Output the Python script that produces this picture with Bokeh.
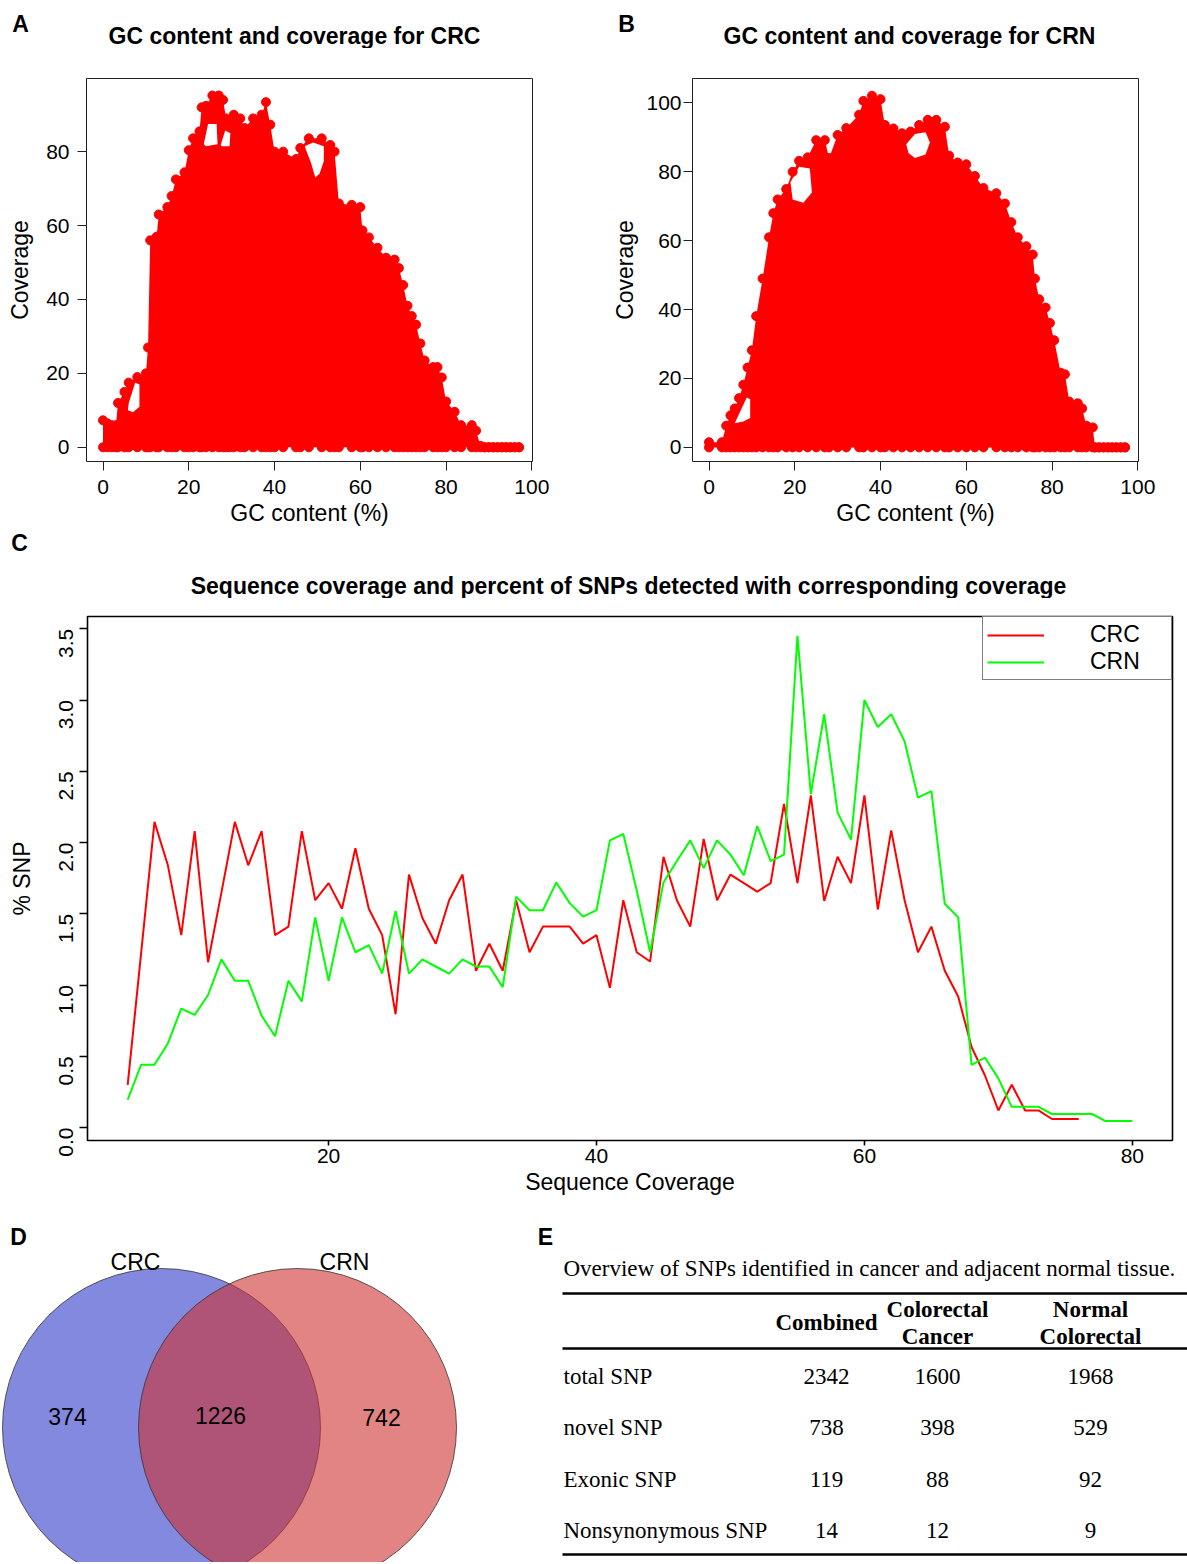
import math
from bokeh.plotting import figure
from bokeh.layouts import column, row
from bokeh.models import FixedTicker, Range1d, NumeralTickFormatter
from bokeh.embed import file_html
from bokeh.resources import INLINE
from bokeh.core.properties import value

SANS = "Liberation Sans"
SERIF = "Liberation Serif"
W = 1187

# ---------------- Panel A / B: upper envelope of GC content vs coverage scatter ----------------
gc_crc = [0, 1, 2, 3, 3.5, 5, 6, 8, 10, 10.5, 11, 12.5, 13, 15, 16, 17, 19, 20, 21, 22.5, 23, 24,
          25.5, 27, 28, 28.7, 29.5, 30.5, 32, 33, 35, 37, 38, 39, 40, 42, 45, 46, 48, 51, 53, 54,
          55, 58, 60, 60.5, 62, 64, 66, 68, 69, 70, 71, 72, 73, 74, 75, 77, 78, 79, 80, 82, 83.5,
          86, 87, 88, 89, 90, 91, 92, 93, 94, 95, 96, 97]
cov_crc = [7.3, 6.5, 6, 6, 12, 15, 17.5, 19, 20, 27, 56, 57, 63, 65, 68, 72.5, 74.4, 80.4, 83.6,
           85.5, 92, 92.4, 95.2, 95.2, 94, 89, 88, 90, 89, 86.4, 89, 90, 93.4, 87.3, 80, 80, 78,
           81, 83.6, 83.6, 81.8, 80, 66, 65.6, 65, 58.7, 56.8, 54, 51.3, 50.8, 48.5, 43.9, 38.3,
           35.5, 33.2, 28.1, 23.5, 21.7, 21.7, 18.9, 12.4, 9.6, 6, 6, 4.5, 0.4, 0, 0, 0, 0, 0, 0,
           0, 0, 0]
holes_crc = [
    ([47, 49, 51.5, 51.5, 50.5, 49.5, 48.5], [81.5, 82.5, 81.5, 77.5, 74, 73, 77]),
    ([6, 7.5, 8.5, 8.5, 7, 5.8], [12, 17.5, 17, 11, 9.5, 10]),
    ([23.5, 24.5, 26.5, 26.7, 24], [82, 87.5, 87.5, 82, 81.5]),
    ([27.5, 28.5, 29.7, 29.5, 27.6], [82, 85.7, 85, 81.5, 81.5]),
]

gc_crn = [0, 3, 4, 5, 6, 7, 8, 9, 10, 11, 12.5, 14, 15, 16, 18, 19.5, 21, 23, 25, 27, 28, 30, 32,
          35, 36, 38, 40, 41, 43, 45, 47, 49, 51, 53, 55, 56, 58, 60, 62, 64, 67, 69, 70.5, 72,
          74, 75.5, 76, 77, 78.5, 79.5, 80.5, 82, 83, 84, 86, 87, 88, 89.5, 90, 91, 92, 93, 94,
          95, 96, 97]
cov_crn = [1.5, 1.5, 6.3, 9.3, 11.3, 14.3, 18.2, 23.2, 28.2, 38.1, 49, 61, 68, 72, 75, 80, 83.2,
           84.2, 89.2, 89.2, 84, 90.7, 92.7, 96.6, 100.6, 102.1, 101.1, 93.6, 92.6, 91.2, 91.7,
           93.6, 95.1, 95.1, 93.1, 84.7, 82.7, 82.2, 78.8, 75.3, 73.8, 70.8, 65.4, 61, 58.4, 56,
           49, 43, 40.6, 36.1, 31.1, 21.7, 21.2, 13.3, 12.8, 11.3, 6.3, 5.8, 0, 0, 0, 0, 0, 0, 0, 0]
holes_crn = [
    ([46, 48, 50.5, 51.5, 50.5, 48, 46.5], [88, 91, 91.5, 88.5, 85, 84, 85.5]),
    ([19, 21, 23.5, 24, 22, 19.5], [77, 81.5, 81, 74, 71, 72]),
    ([6, 8.8, 9.6, 9.6, 8], [7, 14.5, 14, 8.5, 7.5]),
]

gc_ticks = [0, 20, 40, 60, 80, 100]
cov_ticks_crc = [0, 20, 40, 60, 80]
cov_ticks_crn = [0, 20, 40, 60, 80, 100]

# ---------------- Panel C: % SNP by sequence coverage ----------------
seq_cov_crc = [5, 6, 7, 8, 9, 10, 11, 12, 13, 14, 15, 16, 17, 18, 19, 20, 21, 22, 23, 24, 25, 26,
               27, 28, 29, 30, 31, 32, 33, 34, 35, 36, 37, 38, 39, 40, 41, 42, 43, 44, 45, 46, 47,
               48, 49, 50, 51, 52, 53, 54, 55, 56, 57, 58, 59, 60, 61, 62, 63, 64, 65, 66, 67, 68,
               69, 70, 71, 72, 73, 74, 75, 76]
snp_crc = [0.30, 1.22, 2.145, 1.84, 1.35, 2.08, 1.16, 1.65, 2.145, 1.84, 2.08, 1.35, 1.41, 2.08,
           1.595, 1.715, 1.535, 1.96, 1.535, 1.35, 0.795, 1.775, 1.47, 1.29, 1.595, 1.775, 1.10,
           1.29, 1.10, 1.595, 1.23, 1.41, 1.41, 1.41, 1.29, 1.35, 0.98, 1.595, 1.23, 1.165, 1.90,
           1.595, 1.41, 2.025, 1.595, 1.775, 1.715, 1.655, 1.715, 2.27, 1.715, 2.33, 1.59, 1.90,
           1.715, 2.33, 1.53, 2.085, 1.595, 1.23, 1.41, 1.10, 0.92, 0.565, 0.365, 0.12, 0.30,
           0.12, 0.12, 0.06, 0.06, 0.06]
seq_cov_crn = [5, 6, 7, 8, 9, 10, 11, 12, 13, 14, 15, 16, 17, 18, 19, 20, 21, 22, 23, 24, 25, 26,
               27, 28, 29, 30, 31, 32, 33, 34, 35, 36, 37, 38, 39, 40, 41, 42, 43, 44, 45, 46, 47,
               48, 49, 50, 51, 52, 53, 54, 55, 56, 57, 58, 59, 60, 61, 62, 63, 64, 65, 66, 67, 68,
               69, 70, 71, 72, 73, 74, 75, 76, 77, 78, 79, 80]
snp_crn = [0.195, 0.44, 0.44, 0.59, 0.835, 0.79, 0.93, 1.18, 1.03, 1.03, 0.785, 0.64, 1.03, 0.885,
           1.475, 1.03, 1.475, 1.23, 1.28, 1.08, 1.52, 1.08, 1.18, 1.13, 1.08, 1.18, 1.13, 1.13,
           0.985, 1.62, 1.525, 1.525, 1.72, 1.575, 1.48, 1.525, 2.015, 2.06, 1.665, 1.23, 1.72,
           1.87, 2.015, 1.82, 2.015, 1.915, 1.77, 2.115, 1.87, 1.915, 3.45, 2.34, 2.90, 2.21, 2.02,
           3.00, 2.81, 2.90, 2.71, 2.315, 2.36, 1.57, 1.475, 0.44, 0.49, 0.345, 0.145, 0.145,
           0.145, 0.095, 0.095, 0.095, 0.095, 0.045, 0.045, 0.045]
snp_x_ticks = [20, 40, 60, 80]
snp_y_ticks = [0.0, 0.5, 1.0, 1.5, 2.0, 2.5, 3.0, 3.5]

# ---------------- Titles / panel letters ----------------
panel_letters = ["A", "B", "C", "D", "E"]
panel_titles = ["GC content and coverage for CRC", "GC content and coverage for CRN",
                "Sequence coverage and percent of SNPs detected with corresponding coverage"]

# ---------------- Panel D: Venn ----------------
venn_sets = ["CRC", "CRN"]
venn_counts = [374, 1226, 742]   # CRC only, shared, CRN only

# ---------------- Panel E: table ----------------
table_caption = "Overview of SNPs identified in cancer and adjacent normal tissue."
table_headers = ["Combined", "Colorectal Cancer", "Normal Colorectal"]
table_rows = ["total SNP", "novel SNP", "Exonic SNP", "Nonsynonymous SNP"]
combined_vals = [2342, 738, 119, 14]
cancer_vals = [1600, 398, 88, 12]
normal_vals = [1968, 529, 92, 9]


def canvas_fig(width, height):
    """A figure whose frame fills the whole canvas, in pixel-like units (y up)."""
    p = figure(width=width, height=height, x_range=Range1d(0, width), y_range=Range1d(0, height),
               x_axis_type=None, y_axis_type=None, output_backend="svg", toolbar_location=None,
               min_border=0)
    p.grid.visible = False
    p.outline_line_color = None
    return p


def put_text(p, xs, ys, texts, size="23px", style="normal", font=SANS, align="center"):
    p.text(x=xs, y=ys, text=texts, text_font=value(font), text_font_size=size,
           text_font_style=style, text_align=align, text_baseline="middle", text_color="black")


def base_axes(p, tick_out, label_standoff, lw=1.0, color="#222222"):
    p.grid.visible = False
    p.background_fill_color = "white"
    p.border_fill_color = "white"
    p.outline_line_color = color
    p.outline_line_width = lw
    for ax in p.axis:
        ax.axis_line_color = None
        ax.major_tick_line_color = color
        ax.major_tick_line_width = lw
        ax.major_tick_in = 0
        ax.major_tick_out = tick_out
        ax.minor_tick_line_color = None
        ax.major_label_text_font = SANS
        ax.major_label_text_font_size = "21px"
        ax.major_label_text_color = "black"
        ax.axis_label_text_font = SANS
        ax.axis_label_text_font_size = "23px"
        ax.axis_label_text_font_style = "normal"
        ax.axis_label_text_color = "black"
        ax.major_label_standoff = label_standoff


# strip with panel letters A, B and the two scatter titles (page y 0..48)
top_strip = canvas_fig(W, 48)
put_text(top_strip, [20, 626], [25, 25], panel_letters[:2], style="bold")
put_text(top_strip, [294, 909], [13, 13], panel_titles[:2], style="bold")


def gc_panel(width, left, right, gc, cov, yr, yticks, holes, y_label_standoff):
    p = figure(width=width, height=480, x_range=Range1d(-3.85, 100.15), y_range=Range1d(*yr),
               output_backend="svg", toolbar_location=None,
               min_border_left=left, min_border_right=right, min_border_top=30,
               min_border_bottom=64)
    p.varea(x=gc, y1=0, y2=cov, fill_color="#FF0000")
    for hx, hy in holes:
        p.patch(hx, hy, fill_color="white", line_color=None)
    p.scatter(gc, cov, size=9, color="#FF0000")
    p.scatter(gc, [0] * len(gc), size=9, color="#FF0000")
    p.xaxis.ticker = FixedTicker(ticks=gc_ticks)
    p.yaxis.ticker = FixedTicker(ticks=yticks)
    p.xaxis.axis_label = "GC content (%)"
    p.yaxis.axis_label = "Coverage"
    base_axes(p, 9, 8)
    p.xaxis.major_label_standoff = 9
    p.xaxis.axis_label_standoff = 3
    p.yaxis.axis_label_standoff = y_label_standoff
    p.yaxis.major_label_orientation = "horizontal"
    return p


pA = gc_panel(603, 86, 71, gc_crc, cov_crc, (-3.84, 99.8), cov_ticks_crc, holes_crc, 10)
pB = gc_panel(584, 89, 49, gc_crn, cov_crn, (-4.1, 107.1), cov_ticks_crn, holes_crn, 5)
pB.yaxis.major_label_standoff = 2

# strip with letter C and panel C title (page y 528..598)
c_strip = canvas_fig(W, 70)
put_text(c_strip, [19], [56], [panel_letters[2]], style="bold")
put_text(c_strip, [628], [13], [panel_titles[2]], style="bold")

# ---------------- Panel C ----------------
pC = figure(width=W, height=624, x_range=Range1d(2, 83), y_range=Range1d(-0.091, 3.586),
            output_backend="svg", toolbar_location=None,
            min_border_left=87, min_border_right=15, min_border_top=18, min_border_bottom=82)
pC.line(seq_cov_crc, snp_crc, line_color="#FF0000", line_width=2, legend_label="CRC")
pC.line(seq_cov_crn, snp_crn, line_color="#00FF00", line_width=2, legend_label="CRN")
pC.xaxis.ticker = FixedTicker(ticks=snp_x_ticks)
pC.yaxis.ticker = FixedTicker(ticks=snp_y_ticks)
pC.yaxis.formatter = NumeralTickFormatter(format="0.0")
pC.xaxis.axis_label = "Sequence Coverage"
pC.yaxis.axis_label = "% SNP"
base_axes(pC, 7, 3, lw=1.6, color="black")
pC.xaxis.major_tick_out = 5
pC.xaxis.axis_label_standoff = 3
pC.yaxis.major_tick_out = 8
pC.yaxis.major_label_standoff = 13
pC.yaxis.major_label_orientation = math.pi / 2
pC.yaxis.axis_label_standoff = 15
lg = pC.legend[0]
lg.location = "top_right"
lg.margin = 0
lg.padding = 4
lg.spacing = 0
lg.glyph_width = 57
lg.glyph_height = 18
lg.label_height = 18
lg.label_standoff = 46
lg.label_width = 77
lg.label_text_font = SANS
lg.label_text_font_size = "23px"
lg.label_text_line_height = 0.8
lg.label_text_color = "black"
lg.border_line_color = "black"
lg.border_line_width = 1.6
lg.background_fill_alpha = 1.0

# ---------------- Panel D: Venn (pixel-like data units, y up) ----------------
pD = canvas_fig(538, 340)
pD.circle(x=[161], y=[135], radius=159, fill_color="#8489E0", fill_alpha=1.0,
          line_color="#333333", line_alpha=0.8, line_width=1)
pD.circle(x=[297], y=[135], radius=159, fill_color="#CE3030", fill_alpha=0.593,
          line_color="#333333", line_alpha=0.8, line_width=1)
put_text(pD, [67, 220, 381], [146, 147, 145], [str(c) for c in venn_counts])
put_text(pD, [135, 344], [301, 301], venn_sets)
put_text(pD, [18], [326], [panel_letters[3]], style="bold")

# ---------------- Panel E: table ----------------
pE = canvas_fig(649, 340)
put_text(pE, [7], [326], [panel_letters[4]], style="bold")
put_text(pE, [25], [294], [table_caption], font=SERIF, align="left")
pE.segment(x0=[24, 24, 24], y0=[269, 214, 8], x1=[649, 649, 649], y1=[269, 214, 8],
           line_color="black", line_width=2.5)
col_x = [288, 399, 552]
for cx, h in zip(col_x, table_headers):
    words = h.split(" ")
    if len(words) == 1:
        put_text(pE, [cx], [240], words, style="bold", font=SERIF)
    else:
        put_text(pE, [cx, cx], [253, 226], words, style="bold", font=SERIF)
row_y = [186, 135, 83, 32]
put_text(pE, [25] * len(table_rows), row_y, table_rows, font=SERIF, align="left")
for cx, vals in zip(col_x, [combined_vals, cancer_vals, normal_vals]):
    put_text(pE, [cx] * len(vals), row_y, [str(v) for v in vals], font=SERIF)

layout = column(row(top_strip), row(pA, pB), row(c_strip), row(pC), row(pD, pE))
open("out.html", "w").write(file_html(layout, INLINE))
